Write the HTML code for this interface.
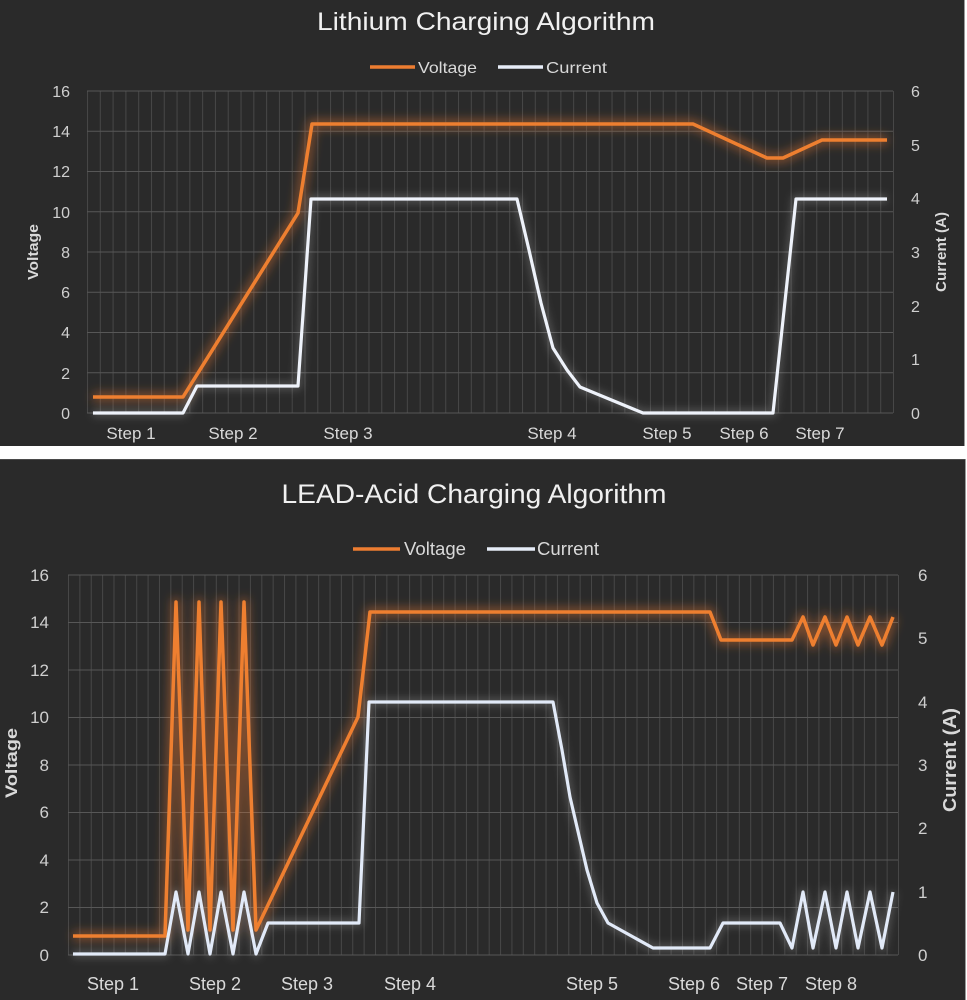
<!DOCTYPE html>
<html>
<head>
<meta charset="utf-8">
<style>
html,body{margin:0;padding:0;background:#ffffff;}
svg{display:block;}
text{font-family:"Liberation Sans",sans-serif;}
</style>
</head>
<body>
<svg width="967" height="1000" viewBox="0 0 967 1000" xmlns="http://www.w3.org/2000/svg">
<defs>
  <pattern id="vg1" patternUnits="userSpaceOnUse" x="87" y="0" width="12.7937" height="1000">
    <rect x="0" y="0" width="1" height="1000" fill="#474747"/>
  </pattern>
  <pattern id="vg2" patternUnits="userSpaceOnUse" x="68" y="0" width="11.3699" height="1000">
    <rect x="0" y="0" width="1" height="1000" fill="#474747"/>
  </pattern>
  <filter id="glowO" x="-10%" y="-20%" width="120%" height="140%">
    <feGaussianBlur stdDeviation="5"/>
  </filter>
  <filter id="glowW" x="-10%" y="-20%" width="120%" height="140%">
    <feGaussianBlur stdDeviation="4"/>
  </filter>
</defs>

<!-- backgrounds -->
<rect x="0" y="0" width="967" height="1000" fill="#ffffff"/>
<rect x="0" y="0" width="964" height="446" fill="#2a2a2a"/>
<rect x="964" y="0" width="1" height="446" fill="#9a9a9a"/>
<rect x="0" y="459" width="965" height="541" fill="#2a2a2a"/>
<rect x="0" y="459" width="965" height="1" fill="#4a4a4a"/>
<rect x="965" y="459" width="1" height="541" fill="#9a9a9a"/>

<!-- ================= TOP CHART ================= -->
<text x="486" y="30" text-anchor="middle" font-size="25" fill="#f0f0f0" textLength="338" lengthAdjust="spacingAndGlyphs">Lithium Charging Algorithm</text>

<!-- legend -->
<line x1="370" y1="67" x2="415" y2="67" stroke="#ed7d31" stroke-width="3.5"/>
<text x="418" y="73" font-size="16" fill="#d9d9d9" textLength="59" lengthAdjust="spacingAndGlyphs">Voltage</text>
<line x1="498" y1="67" x2="543" y2="67" stroke="#e6ecf7" stroke-width="3.5"/>
<text x="546" y="73" font-size="16" fill="#d9d9d9" textLength="61" lengthAdjust="spacingAndGlyphs">Current</text>

<!-- grid -->
<rect x="87" y="91" width="807" height="322" fill="url(#vg1)"/>
<g stroke="#575757" stroke-width="1">
  <line x1="87" y1="91" x2="893" y2="91"/>
  <line x1="87" y1="131.25" x2="893" y2="131.25"/>
  <line x1="87" y1="171.5" x2="893" y2="171.5"/>
  <line x1="87" y1="211.75" x2="893" y2="211.75"/>
  <line x1="87" y1="252" x2="893" y2="252"/>
  <line x1="87" y1="292.25" x2="893" y2="292.25"/>
  <line x1="87" y1="332.5" x2="893" y2="332.5"/>
  <line x1="87" y1="372.75" x2="893" y2="372.75"/>
  <line x1="87" y1="413" x2="893" y2="413"/>
</g>

<!-- left ticks -->
<g font-size="16" fill="#cfcfcf" text-anchor="end">
  <text x="70" y="97">16</text>
  <text x="70" y="137">14</text>
  <text x="70" y="177">12</text>
  <text x="70" y="218">10</text>
  <text x="70" y="258">8</text>
  <text x="70" y="298">6</text>
  <text x="70" y="338">4</text>
  <text x="70" y="379">2</text>
  <text x="70" y="419">0</text>
</g>
<!-- right ticks -->
<g font-size="16" fill="#cfcfcf">
  <text x="911" y="97">6</text>
  <text x="911" y="151">5</text>
  <text x="911" y="204">4</text>
  <text x="911" y="258">3</text>
  <text x="911" y="312">2</text>
  <text x="911" y="365">1</text>
  <text x="911" y="419">0</text>
</g>
<!-- axis titles -->
<text transform="translate(38,252) rotate(-90)" text-anchor="middle" font-size="15" font-weight="bold" fill="#d9d9d9" textLength="56" lengthAdjust="spacingAndGlyphs">Voltage</text>
<text transform="translate(946,252) rotate(-90)" text-anchor="middle" font-size="15" font-weight="bold" fill="#d9d9d9" textLength="80" lengthAdjust="spacingAndGlyphs">Current (A)</text>

<!-- step labels -->
<g font-size="17" fill="#d9d9d9" text-anchor="middle">
  <text x="131" y="439">Step 1</text>
  <text x="233" y="439">Step 2</text>
  <text x="348" y="439">Step 3</text>
  <text x="552" y="439">Step 4</text>
  <text x="667" y="439">Step 5</text>
  <text x="744" y="439">Step 6</text>
  <text x="820" y="439">Step 7</text>
</g>

<!-- series top -->
<polyline fill="none" stroke="#ed7d31" stroke-width="9" stroke-opacity="0.45" filter="url(#glowO)" stroke-linejoin="round"
  points="93,397 183,397 298,213 312,124 693,124 767,158 783,158 822,140 887,140"/>
<polyline fill="none" stroke="#ffffff" stroke-width="8" stroke-opacity="0.18" filter="url(#glowW)" stroke-linejoin="round"
  points="93,413 183,413 197,386 298,386 311,199 517,199 529,250 541,303 553,348 567,370 580,387 643,413 773,413 796,199 887,199"/>
<polyline fill="none" stroke="#ee7f30" stroke-width="3.5" stroke-linejoin="round"
  points="93,397 183,397 298,213 312,124 693,124 767,158 783,158 822,140 887,140"/>
<polyline fill="none" stroke="#eef2fa" stroke-width="3.2" stroke-linejoin="round"
  points="93,413 183,413 197,386 298,386 311,199 517,199 529,250 541,303 553,348 567,370 580,387 643,413 773,413 796,199 887,199"/>

<!-- ================= BOTTOM CHART ================= -->
<text x="474" y="503" text-anchor="middle" font-size="27" fill="#f0f0f0" textLength="385" lengthAdjust="spacingAndGlyphs">LEAD-Acid Charging Algorithm</text>

<!-- legend -->
<line x1="353" y1="549" x2="400" y2="549" stroke="#ed7d31" stroke-width="3.5"/>
<text x="404" y="555" font-size="18" fill="#d9d9d9" textLength="62" lengthAdjust="spacingAndGlyphs">Voltage</text>
<line x1="487" y1="549" x2="535" y2="549" stroke="#e6ecf7" stroke-width="3.5"/>
<text x="537" y="555" font-size="18" fill="#d9d9d9" textLength="62" lengthAdjust="spacingAndGlyphs">Current</text>

<!-- grid -->
<rect x="68" y="575" width="831" height="380" fill="url(#vg2)"/>
<g stroke="#575757" stroke-width="1">
  <line x1="68" y1="575" x2="898" y2="575"/>
  <line x1="68" y1="622.5" x2="898" y2="622.5"/>
  <line x1="68" y1="670" x2="898" y2="670"/>
  <line x1="68" y1="717.5" x2="898" y2="717.5"/>
  <line x1="68" y1="765" x2="898" y2="765"/>
  <line x1="68" y1="812.5" x2="898" y2="812.5"/>
  <line x1="68" y1="860" x2="898" y2="860"/>
  <line x1="68" y1="907.5" x2="898" y2="907.5"/>
  <line x1="68" y1="955" x2="898" y2="955"/>
</g>

<!-- left ticks -->
<g font-size="17" fill="#cfcfcf" text-anchor="end">
  <text x="49" y="581">16</text>
  <text x="49" y="628">14</text>
  <text x="49" y="676">12</text>
  <text x="49" y="723">10</text>
  <text x="49" y="771">8</text>
  <text x="49" y="818">6</text>
  <text x="49" y="866">4</text>
  <text x="49" y="913">2</text>
  <text x="49" y="961">0</text>
</g>
<!-- right ticks -->
<g font-size="17" fill="#cfcfcf">
  <text x="918" y="581">6</text>
  <text x="918" y="644">5</text>
  <text x="918" y="708">4</text>
  <text x="918" y="771">3</text>
  <text x="918" y="834">2</text>
  <text x="918" y="898">1</text>
  <text x="918" y="961">0</text>
</g>
<!-- axis titles -->
<text transform="translate(17,763) rotate(-90)" text-anchor="middle" font-size="17" font-weight="bold" fill="#d9d9d9" textLength="70" lengthAdjust="spacingAndGlyphs">Voltage</text>
<text transform="translate(956,760) rotate(-90)" text-anchor="middle" font-size="18" font-weight="bold" fill="#d9d9d9" textLength="104" lengthAdjust="spacingAndGlyphs">Current (A)</text>

<!-- step labels -->
<g font-size="18" fill="#d9d9d9" text-anchor="middle">
  <text x="113" y="990">Step 1</text>
  <text x="215" y="990">Step 2</text>
  <text x="307" y="990">Step 3</text>
  <text x="410" y="990">Step 4</text>
  <text x="592" y="990">Step 5</text>
  <text x="694" y="990">Step 6</text>
  <text x="762" y="990">Step 7</text>
  <text x="831" y="990">Step 8</text>
</g>

<!-- series bottom -->
<polyline fill="none" stroke="#ed7d31" stroke-width="9" stroke-opacity="0.45" filter="url(#glowO)" stroke-linejoin="round"
  points="73,936 165,936 176,602 188,930 199,602 210,930 221,602 233,930 244,602 256,930 358,717 370,612 710,612 721,640 792,640 803,617 813,645 825,617 836,645 847,617 858,645 870,617 882,645 893,617"/>
<polyline fill="none" stroke="#ffffff" stroke-width="8" stroke-opacity="0.18" filter="url(#glowW)" stroke-linejoin="round"
  points="73,954 165,954 176,892 188,954 199,892 210,954 221,892 233,954 244,892 256,954 268,923 359,923 369,702 553,702 562,750 570,797 580,840 587,870 597,903 608,923 653,948 710,948 723,923 780,923 792,948 803,892 813,948 825,892 836,948 847,892 858,948 870,892 882,948 893,892"/>
<polyline fill="none" stroke="#ee7f30" stroke-width="3.5" stroke-linejoin="round"
  points="73,936 165,936 176,602 188,930 199,602 210,930 221,602 233,930 244,602 256,930 358,717 370,612 710,612 721,640 792,640 803,617 813,645 825,617 836,645 847,617 858,645 870,617 882,645 893,617"/>
<polyline fill="none" stroke="#e2eaf8" stroke-width="3.2" stroke-linejoin="round"
  points="73,954 165,954 176,892 188,954 199,892 210,954 221,892 233,954 244,892 256,954 268,923 359,923 369,702 553,702 562,750 570,797 580,840 587,870 597,903 608,923 653,948 710,948 723,923 780,923 792,948 803,892 813,948 825,892 836,948 847,892 858,948 870,892 882,948 893,892"/>
</svg>
</body>
</html>
